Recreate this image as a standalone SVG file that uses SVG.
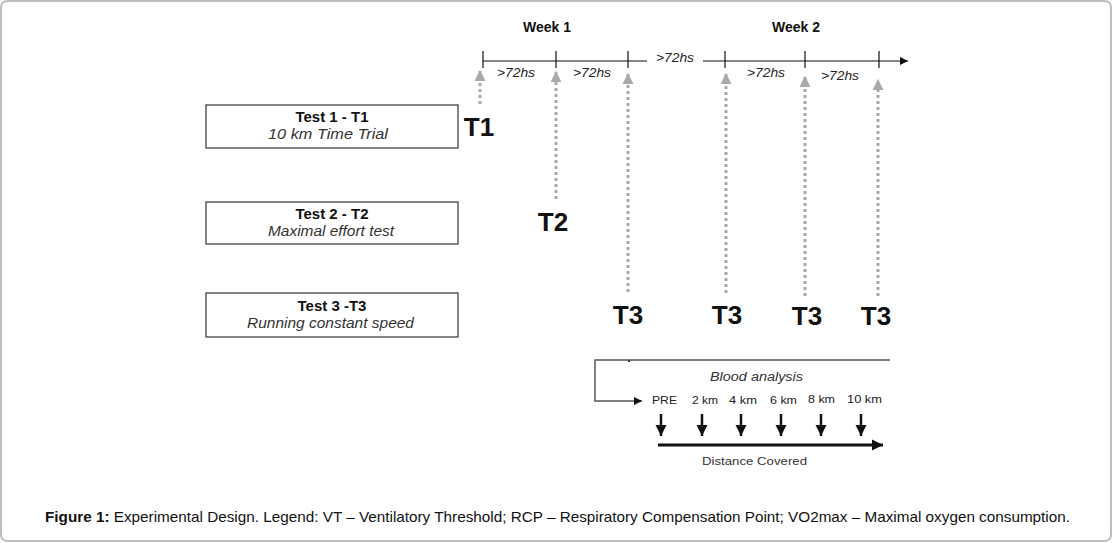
<svg xmlns="http://www.w3.org/2000/svg" width="1113" height="543" viewBox="0 0 1113 543">
<defs>
<style>
text{font-family:"Liberation Sans",Arial,sans-serif;fill:#111}
.box{fill:#fff;stroke:#333;stroke-width:1.2}
.ttl{font-size:15px;font-weight:bold;text-anchor:middle}
.sub{font-size:14.5px;font-style:italic;fill:#333}
.wk{font-size:14px;font-weight:bold;text-anchor:middle}
.hs{font-size:12px;font-style:italic;fill:#222}
.big{font-size:26px;font-weight:bold;text-anchor:middle}
.km{font-size:11.5px;fill:#222}
.dot{stroke:#aaa;stroke-width:3;stroke-dasharray:3 3;fill:none}
.tick{stroke:#111;stroke-width:1.2}
</style>
<marker id="gh" viewBox="0 0 10 10" refX="9" refY="5" markerWidth="11" markerHeight="12" markerUnits="userSpaceOnUse" orient="auto">
<path d="M0,0 L10,5 L0,10 Z" fill="#aaa"/>
</marker>
<marker id="bh" viewBox="0 0 10 10" refX="10" refY="5" markerWidth="8" markerHeight="8" markerUnits="userSpaceOnUse" orient="auto">
<path d="M0,0 L10,5 L0,10 Z" fill="#111"/>
</marker>
<marker id="dh" viewBox="0 0 10 10" refX="10" refY="5" markerWidth="11" markerHeight="12" markerUnits="userSpaceOnUse" orient="auto">
<path d="M0,0 L10,5 L0,10 Z" fill="#111"/>
</marker>
</defs>
<rect x="1" y="1" width="1110" height="540" rx="6" fill="#fff" stroke="#aaa" stroke-width="1.5"/>

<g id="test1"><rect class="box" x="206" y="105" width="252" height="43"/><text class="ttl" x="332" y="122">Test 1 - T1</text><text class="sub" x="268" y="139" textLength="120" lengthAdjust="spacingAndGlyphs">10 km Time Trial</text></g>
<g id="test2"><rect class="box" x="206" y="202" width="252" height="42"/><text class="ttl" x="332" y="219">Test 2 - T2</text><text class="sub" x="268" y="236" textLength="126" lengthAdjust="spacingAndGlyphs">Maximal effort test</text></g>
<g id="test3"><rect class="box" x="206" y="293" width="252" height="44"/><text class="ttl" x="332" y="311">Test 3 -T3</text><text class="sub" x="247" y="328" textLength="167" lengthAdjust="spacingAndGlyphs">Running constant speed</text></g>

<g id="timeline">
<text class="wk" x="547" y="32">Week 1</text>
<text class="wk" x="796" y="32">Week 2</text>
<line class="tick" x1="483" y1="61" x2="647" y2="61"/>
<line class="tick" x1="703" y1="61" x2="908" y2="61" marker-end="url(#bh)"/>
<line class="tick" x1="483" y1="51" x2="483" y2="68"/>
<line class="tick" x1="556" y1="51" x2="556" y2="68"/>
<line class="tick" x1="628" y1="51" x2="628" y2="68"/>
<line class="tick" x1="725" y1="51" x2="725" y2="68"/>
<line class="tick" x1="805" y1="51" x2="805" y2="68"/>
<line class="tick" x1="879" y1="51" x2="879" y2="68"/>
<text class="hs" x="497" y="77" textLength="38" lengthAdjust="spacingAndGlyphs">&gt;72hs</text>
<text class="hs" x="573" y="77" textLength="38" lengthAdjust="spacingAndGlyphs">&gt;72hs</text>
<text class="hs" x="656" y="62" textLength="38" lengthAdjust="spacingAndGlyphs">&gt;72hs</text>
<text class="hs" x="747" y="77" textLength="38" lengthAdjust="spacingAndGlyphs">&gt;72hs</text>
<text class="hs" x="821" y="80" textLength="38" lengthAdjust="spacingAndGlyphs">&gt;72hs</text>
</g>

<g id="connectors">
<line class="dot" x1="480" y1="104" x2="480" y2="71" marker-end="url(#gh)"/>
<line class="dot" x1="556" y1="199" x2="556" y2="72" marker-end="url(#gh)"/>
<line class="dot" x1="628" y1="292" x2="628" y2="74" marker-end="url(#gh)"/>
<line class="dot" x1="726" y1="293" x2="726" y2="74" marker-end="url(#gh)"/>
<line class="dot" x1="805" y1="296" x2="805" y2="77" marker-end="url(#gh)"/>
<line class="dot" x1="878" y1="296" x2="878" y2="80" marker-end="url(#gh)"/>
</g>

<g id="labels">
<text class="big" x="479" y="136">T1</text>
<text class="big" x="553" y="231">T2</text>
<text class="big" x="628" y="324">T3</text>
<text class="big" x="727" y="324">T3</text>
<text class="big" x="807" y="325">T3</text>
<text class="big" x="876" y="325">T3</text>
</g>

<g id="blood">
<path d="M890,360 L595,360 L595,401 L642,401" fill="none" stroke="#555" stroke-width="1.5" marker-end="url(#bh)"/>
<line x1="629" y1="360" x2="629" y2="362" stroke="#333" stroke-width="2"/>
<text x="710" y="381" textLength="93" lengthAdjust="spacingAndGlyphs" style="font-size:12.5px;font-style:italic;fill:#333">Blood analysis</text>
<text class="km" x="652" y="404" textLength="25" lengthAdjust="spacingAndGlyphs">PRE</text>
<text class="km" x="692" y="404" textLength="26" lengthAdjust="spacingAndGlyphs">2 km</text>
<text class="km" x="729" y="404" textLength="28" lengthAdjust="spacingAndGlyphs">4 km</text>
<text class="km" x="770" y="404" textLength="27" lengthAdjust="spacingAndGlyphs">6 km</text>
<text class="km" x="808" y="403" textLength="27" lengthAdjust="spacingAndGlyphs">8 km</text>
<text class="km" x="847" y="403" textLength="35" lengthAdjust="spacingAndGlyphs">10 km</text>
<g stroke="#111" stroke-width="2.5">
<line x1="661" y1="414" x2="661" y2="436" marker-end="url(#dh)"/>
<line x1="702" y1="414" x2="702" y2="436" marker-end="url(#dh)"/>
<line x1="741" y1="414" x2="741" y2="436" marker-end="url(#dh)"/>
<line x1="781" y1="414" x2="781" y2="436" marker-end="url(#dh)"/>
<line x1="821" y1="414" x2="821" y2="436" marker-end="url(#dh)"/>
<line x1="861" y1="414" x2="861" y2="436" marker-end="url(#dh)"/>
<line x1="658" y1="445" x2="883" y2="445" stroke-width="3" marker-end="url(#dh)"/>
</g>
<text x="702" y="465" textLength="105" lengthAdjust="spacingAndGlyphs" style="font-size:11px;fill:#333">Distance Covered</text>
</g>

<text x="45" y="522" style="font-size:14.5px" textLength="1025" lengthAdjust="spacingAndGlyphs"><tspan font-weight="bold">Figure 1:</tspan> Experimental Design. Legend: VT – Ventilatory Threshold; RCP – Respiratory Compensation Point; VO2max – Maximal oxygen consumption.</text>
</svg>
